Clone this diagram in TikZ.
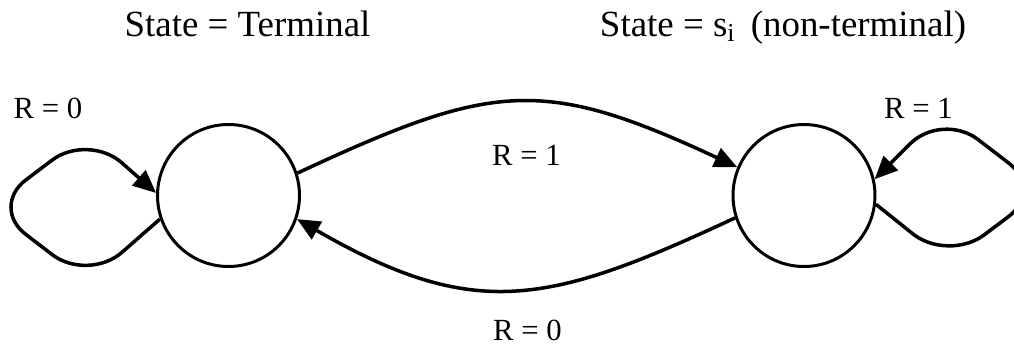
\documentclass[tikz,border=0pt]{standalone}
\usepackage{fontspec}
\setmainfont{Liberation Serif}
\usepackage{tikz}
\usetikzlibrary{arrows.meta, positioning}

\begin{document}
\begin{tikzpicture}[
    statenode/.style={draw, circle, line width=1.7pt, minimum size=2.84cm, inner sep=0pt},
    trans/.style={line width=2pt, -{Triangle[length=0.46cm, width=0.4cm]}},
    title/.style={font=\fontsize{21}{25}\selectfont, anchor=base},
    rlabel/.style={font=\fontsize{17.5}{21}\selectfont}
]
    % Canvas
    \useasboundingbox (0,0) rectangle (20.28, 6.92);

    % States
    \node[statenode] (term) at (4.57, 3.01) {};
    \node[statenode] (nonterm) at (16.08, 3.01) {};

    % Titles
    \node[title] (termtitle) at (4.95, 6.2) {State = Terminal};
    \node[title] (nontermtitle) at (15.66, 6.2) {State = s\textsubscript{i}\, (non-terminal)};

    % Transitions between states
    \draw[trans] (term.18) to[out=25, in=155, looseness=1.25] (nonterm.157);
    \draw[trans] (nonterm.198) to[out=205, in=-30, looseness=1.2] (term.-19);

    % Self loops
    \draw[trans, rounded corners=0.9cm] (term.199) -- (1.76, 1.28) -- (-0.2, 2.78)
        -- (1.76, 4.26) -- (term.178);
    \draw[trans, rounded corners=0.9cm] (nonterm.-7) -- (18.96, 1.68) -- (20.88, 3.12)
        -- (18.84, 4.68) -- (nonterm.13);

    % Rewards
    \node[rlabel] (rterm) at (0.96, 4.75) {R = 0};
    \node[rlabel] (rup) at (10.53, 3.82) {R = 1};
    \node[rlabel] (rnonterm) at (18.37, 4.75) {R = 1};
    \node[rlabel] (rdown) at (10.55, 0.32) {R = 0};
\end{tikzpicture}
\end{document}
